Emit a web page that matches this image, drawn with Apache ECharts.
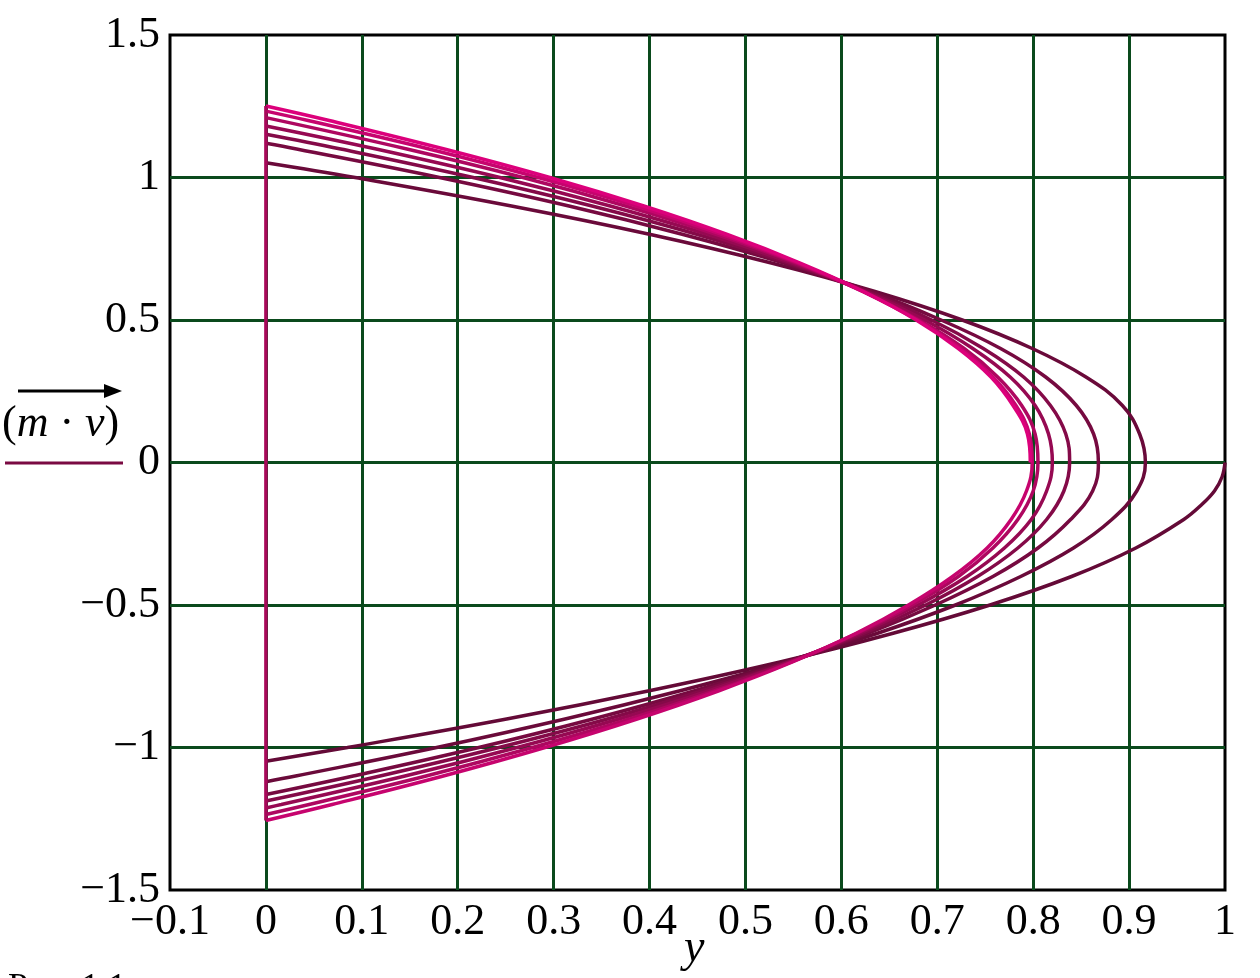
<!DOCTYPE html>
<html>
<head>
<meta charset="utf-8">
<script src="https://cdn.jsdelivr.net/npm/echarts@6/dist/echarts.min.js"></script>
<style>
  html, body { margin: 0; padding: 0; background: #fff; }
  #chart { width: 1260px; height: 978px; }
</style>
</head>
<body>
<div id="chart"></div>
<script>
// axis ticks
const xTicks = [-0.1, 0, 0.1, 0.2, 0.3, 0.4, 0.5, 0.6, 0.7, 0.8, 0.9, 1];
const yTicks = [-1.5, -1, -0.5, 0, 0.5, 1, 1.5];

// upper halves [y, m*v], from the left edge to the turning point
const upper0 = [[0, 1.052], [0.093, 1.0], [0.256, 0.9], [0.401, 0.8], [0.527, 0.7], [0.635, 0.6], [0.726, 0.5], [0.799, 0.4], [0.855, 0.3], [0.893, 0.2], [0.911, 0.1], [0.917, 0]];
const upper1 = [[0, 1.120], [0.032, 1.1], [0.181, 1.0], [0.316, 0.9], [0.435, 0.8], [0.540, 0.7], [0.630, 0.6], [0.704, 0.5], [0.766, 0.4], [0.813, 0.3], [0.845, 0.2], [0.863, 0.1], [0.868, 0]];
const upper2 = [[0, 1.152], [0.078, 1.1], [0.216, 1.0], [0.340, 0.9], [0.450, 0.8], [0.545, 0.7], [0.626, 0.6], [0.694, 0.5], [0.748, 0.4], [0.790, 0.3], [0.818, 0.2], [0.834, 0.1], [0.838, 0]];
const upper3 = [[0, 1.181], [0.115, 1.1], [0.244, 1.0], [0.359, 0.9], [0.461, 0.8], [0.549, 0.7], [0.625, 0.6], [0.687, 0.5], [0.737, 0.4], [0.776, 0.3], [0.802, 0.2], [0.816, 0.1], [0.820, 0]];
const upper4 = [[0, 1.210], [0.147, 1.1], [0.268, 1.0], [0.375, 0.9], [0.470, 0.8], [0.553, 0.7], [0.623, 0.6], [0.681, 0.5], [0.728, 0.4], [0.763, 0.3], [0.788, 0.2], [0.802, 0.1], [0.805, 0]];
const upper5 = [[0, 1.233], [0.044, 1.2], [0.170, 1.1], [0.284, 1.0], [0.386, 0.9], [0.476, 0.8], [0.555, 0.7], [0.622, 0.6], [0.679, 0.5], [0.724, 0.4], [0.758, 0.3], [0.782, 0.2], [0.796, 0.1], [0.799, 0]];
const upper6 = [[0, 1.251], [0.066, 1.2], [0.186, 1.1], [0.296, 1.0], [0.394, 0.9], [0.481, 0.8], [0.557, 0.7], [0.623, 0.6], [0.678, 0.5], [0.722, 0.4], [0.756, 0.3], [0.779, 0.2], [0.794, 0.1], [0.797, 0]];

// lower halves, from the turning point back to the left edge
const lower0 = [[1.0, 0], [0.997, -0.05], [0.989, -0.1], [0.975, -0.15], [0.957, -0.2], [0.907, -0.3], [0.840, -0.4], [0.755, -0.5], [0.653, -0.6], [0.536, -0.7], [0.401, -0.8], [0.251, -0.9], [0.085, -1.0], [0, -1.048]];
const lower1 = [[0.917, 0], [0.908, -0.1], [0.882, -0.2], [0.842, -0.3], [0.787, -0.4], [0.719, -0.5], [0.637, -0.6], [0.542, -0.7], [0.433, -0.8], [0.312, -0.9], [0.178, -1.0], [0.031, -1.1], [0, -1.120]];
const lower2 = [[0.868, 0], [0.862, -0.1], [0.839, -0.2], [0.805, -0.3], [0.758, -0.4], [0.698, -0.5], [0.627, -0.6], [0.543, -0.7], [0.448, -0.8], [0.341, -0.9], [0.222, -1.0], [0.091, -1.1], [0, -1.165]];
const lower3 = [[0.838, 0], [0.832, -0.1], [0.814, -0.2], [0.784, -0.3], [0.742, -0.4], [0.688, -0.5], [0.623, -0.6], [0.546, -0.7], [0.456, -0.8], [0.356, -0.9], [0.243, -1.0], [0.119, -1.1], [0, -1.188]];
const lower4 = [[0.820, 0], [0.814, -0.1], [0.798, -0.2], [0.770, -0.3], [0.731, -0.4], [0.680, -0.5], [0.619, -0.6], [0.546, -0.7], [0.463, -0.8], [0.368, -0.9], [0.262, -1.0], [0.145, -1.1], [0.016, -1.2], [0, -1.212]];
const lower5 = [[0.805, 0], [0.800, -0.1], [0.784, -0.2], [0.758, -0.3], [0.722, -0.4], [0.674, -0.5], [0.616, -0.6], [0.548, -0.7], [0.469, -0.8], [0.379, -0.9], [0.278, -1.0], [0.167, -1.1], [0.045, -1.2], [0, -1.235]];
const lower6 = [[0.799, 0], [0.793, -0.1], [0.777, -0.2], [0.752, -0.3], [0.716, -0.4], [0.670, -0.5], [0.615, -0.6], [0.549, -0.7], [0.473, -0.8], [0.387, -0.9], [0.291, -1.0], [0.185, -1.1], [0.069, -1.2], [0, -1.256]];

// each visible curve: upper half joined to the lower half that turns at the same point
const curves = [
    lower0,
    upper0.concat(lower1.slice(1)),
    upper1.concat(lower2.slice(1)),
    upper2.concat(lower3.slice(1)),
    upper3.concat(lower4.slice(1)),
    upper4.concat(lower5.slice(1)),
    upper5.concat(lower6.slice(1)),
    upper6,
];
const colors = ["#640a37", "#6a0a3a", "#760a40", "#840a48", "#960952", "#ae0760", "#c6046e", "#dc007b"];

const fmt = (v) => {
    const r = Math.round(v * 10) / 10;
    return (r < 0 ? "\u2212" : "") + Math.abs(r);
};
const serif = "Liberation Serif";

const series = curves.map((pts, k) => ({
    type: "line",
    data: pts,
    smooth: 0.4,
    symbol: "none",
    lineStyle: { color: colors[k], width: 3.5 },
    z: 3 + k,
}));
// left edge, where the curves start and end
series.push({
    type: "line",
    data: [upper6[0], lower6[lower6.length - 1]],
    symbol: "none",
    lineStyle: { color: "#a8085a", width: 3.5 },
    z: 12,
});

const chart = echarts.init(document.getElementById("chart"));
chart.setOption({
    animation: false,
    grid: {
        left: 170,
        right: 35,
        top: 35,
        bottom: 88,
        show: true,
        borderColor: "#000",
        borderWidth: 3,
        backgroundColor: "#fff",
    },
    xAxis: {
        type: "value",
        min: xTicks[0],
        max: xTicks[xTicks.length - 1],
        interval: 0.1,
        axisLine: { show: false },
        axisTick: { show: false },
        axisLabel: {
            formatter: fmt,
            fontFamily: serif,
            fontSize: 44,
            color: "#000",
            margin: 10,
        },
        splitLine: {
            show: true,
            showMinLine: false,
            showMaxLine: false,
            lineStyle: { color: "#0a4a1c", width: 3 },
        },
    },
    yAxis: {
        type: "value",
        min: yTicks[0],
        max: yTicks[yTicks.length - 1],
        interval: 0.5,
        axisLine: { show: false },
        axisTick: { show: false },
        axisLabel: {
            formatter: fmt,
            fontFamily: serif,
            fontSize: 44,
            color: "#000",
            margin: 10,
        },
        splitLine: {
            show: true,
            showMinLine: false,
            showMaxLine: false,
            lineStyle: { color: "#0a4a1c", width: 3 },
        },
    },
    graphic: [
        {
            type: "text",
            left: 2,
            top: 402,
            style: {
                text: "{n|(}{i|m}{n| \u00b7 }{i|v}{n|)}",
                rich: {
                    n: { fontFamily: serif, fontSize: 44, fill: "#000" },
                    i: { fontFamily: serif, fontSize: 44, fontStyle: "italic", fill: "#000" },
                },
            },
        },
        {
            type: "line",
            shape: { x1: 18, y1: 391, x2: 108, y2: 391 },
            style: { stroke: "#000", lineWidth: 3 },
        },
        {
            type: "polygon",
            shape: { points: [[104, 384], [122, 391], [104, 398]] },
            style: { fill: "#000" },
        },
        {
            type: "line",
            shape: { x1: 5, y1: 463, x2: 123, y2: 463 },
            style: { stroke: "#7a0a42", lineWidth: 3 },
        },
        {
            type: "text",
            left: 684,
            top: 926,
            style: {
                text: "y",
                font: "italic 46px 'Liberation Serif'",
                fill: "#000",
            },
        },
        {
            type: "text",
            left: 8,
            top: 971,
            style: {
                text: "Рис. 1.1",
                font: "36px 'Liberation Serif'",
                fill: "#000",
            },
        },
    ],
    series: series,
});
</script>
</body>
</html>
